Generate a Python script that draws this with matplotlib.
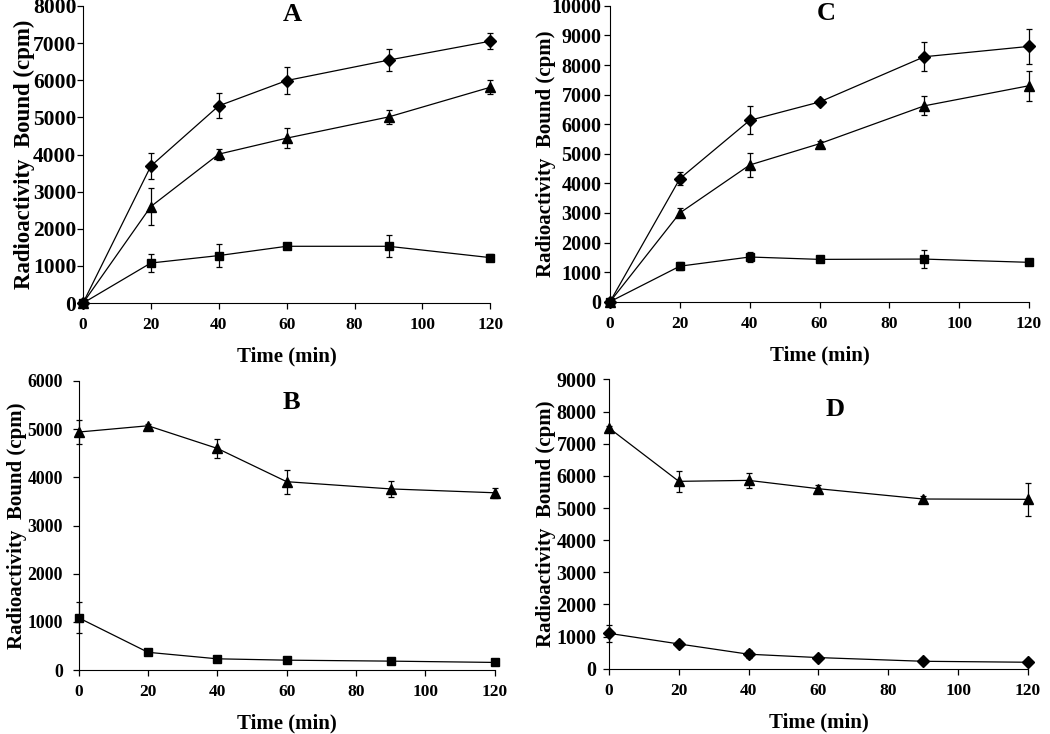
import matplotlib
matplotlib.use("Agg")
import matplotlib.pyplot as plt

plt.rcParams["font.family"] = ["Liberation Serif", "DejaVu Serif"]
plt.rcParams["font.weight"] = "bold"

time = [0, 20, 40, 60, 90, 120]

# Panel A
a_diamond = [0, 3690, 5310, 5990, 6540, 7050]
a_diamond_err = [0, 360, 340, 360, 300, 215]
a_triangle = [0, 2600, 4010, 4440, 5010, 5810]
a_triangle_err = [0, 500, 150, 275, 180, 190]
a_square = [0, 1080, 1280, 1530, 1530, 1225]
a_square_err = [0, 250, 300, 60, 300, 100]

# Panel C
c_diamond = [0, 4160, 6130, 6750, 8280, 8630]
c_diamond_err = [0, 230, 470, 60, 490, 600]
c_triangle = [0, 3000, 4620, 5340, 6620, 7300]
c_triangle_err = [0, 150, 390, 80, 320, 500]
c_square = [0, 1200, 1510, 1430, 1440, 1330]
c_square_err = [0, 130, 160, 60, 300, 60]

# Panel B
b_triangle = [4940, 5070, 4600, 3910, 3760, 3680]
b_triangle_err = [250, 40, 195, 250, 170, 100]
b_square = [1085, 370, 235, 207, 187, 160]
b_square_err = [320, 40, 40, 30, 30, 20]

# Panel D
d_triangle = [7490, 5830, 5860, 5600, 5280, 5270]
d_triangle_err = [60, 330, 235, 110, 100, 520]
d_diamond = [1100, 770, 450, 345, 230, 200]
d_diamond_err = [260, 40, 120, 40, 30, 20]

fig = plt.figure(figsize=(10.5, 7.34), dpi=100)

# letter, axes rect, ymax, title pos, ytick size, ytick pad, ylabel x, ylabel size, series
panels = [
    ("A", [0.079, 0.587, 0.388, 0.405], 8000, (0.513, 0.97), 15.5, 0.8, -0.118, 16.5,
     [(a_diamond, a_diamond_err, "D", 6), (a_triangle, a_triangle_err, "^", 7),
      (a_square, a_square_err, "s", 6)]),
    ("C", [0.581, 0.589, 0.399, 0.403], 10000, (0.515, 0.973), 14.5, 2.2, -0.129, 15,
     [(c_diamond, c_diamond_err, "D", 6), (c_triangle, c_triangle_err, "^", 7),
      (c_square, c_square_err, "s", 6)]),
    ("B", [0.075, 0.087, 0.396, 0.394], 6000, (0.512, 0.924), 12.8, 7.5, -0.125, 15,
     [(b_triangle, b_triangle_err, "^", 7), (b_square, b_square_err, "s", 6)]),
    ("D", [0.580, 0.089, 0.399, 0.394], 9000, (0.54, 0.896), 14.5, 5.0, -0.126, 15,
     [(d_triangle, d_triangle_err, "^", 7), (d_diamond, d_diamond_err, "D", 6)]),
]

for letter, pos, ymax, tpos, ysize, ypad, ylx, ylsize, series in panels:
    ax = fig.add_axes(pos)
    for vals, err, mk, ms in series:
        ax.errorbar(time, vals, yerr=err, color="black", marker=mk, markersize=ms,
                    linewidth=0.9, elinewidth=0.9, capsize=2.5, capthick=0.9,
                    clip_on=False)
    ax.set_xlim(0, 120)
    ax.set_ylim(0, ymax)
    ax.set_xticks(range(0, 121, 20))
    ax.set_yticks(range(0, ymax + 1, 1000))
    ax.spines["top"].set_visible(False)
    ax.spines["right"].set_visible(False)
    ax.tick_params(axis="x", direction="out", length=4, width=0.9, labelsize=12.5, pad=6)
    ax.tick_params(axis="y", direction="out", length=4, width=0.9, labelsize=ysize, pad=ypad)
    for lab in ax.get_xticklabels() + ax.get_yticklabels():
        lab.set_fontweight("bold")
    ax.set_xlabel("Time (min)", fontsize=15, fontweight="bold", labelpad=10)
    ax.set_ylabel("Radioactivity  Bound (cpm)", fontsize=ylsize, fontweight="bold")
    ax.yaxis.set_label_coords(ylx, 0.5)
    ax.text(tpos[0], tpos[1], letter, transform=ax.transAxes, ha="center", va="center",
            fontsize=19, fontweight="bold")

fig.savefig("out.png", dpi=100)
